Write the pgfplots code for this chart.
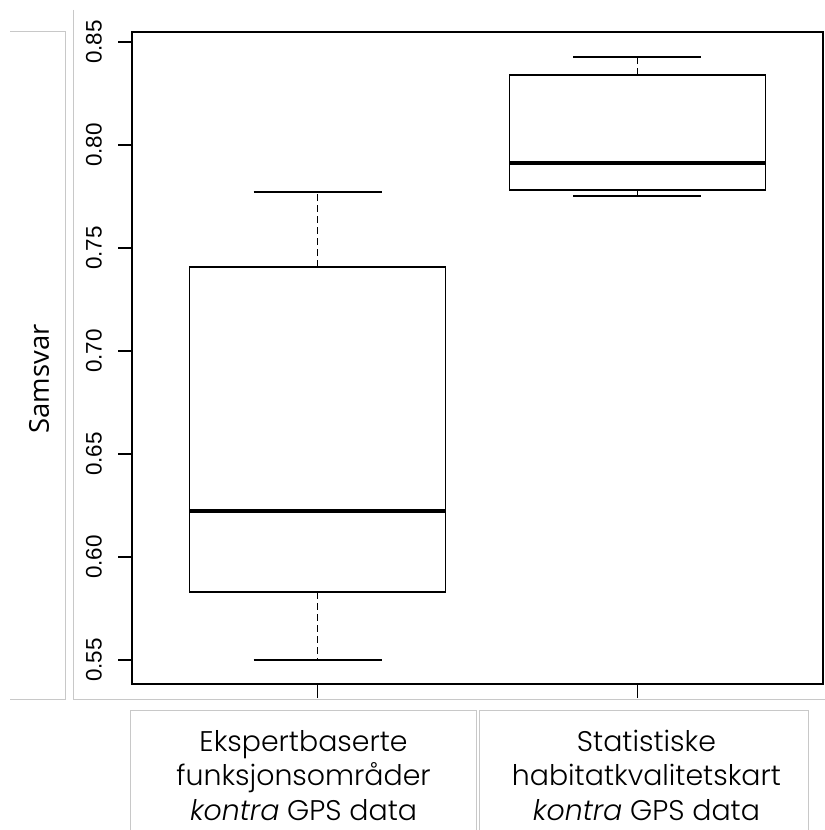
\documentclass[border=0pt]{standalone}
\usepackage{pgfplots}
\pgfplotsset{compat=1.18}
\usepgfplotslibrary{statistics}
\usepackage{fontspec}
\setmainfont{Liberation Sans}
\newfontfamily\labfont{Poppins Light}
\newfontfamily\ylabfont{Open Sans}
\newcommand{\catA}{\hbox{\labfont\fontsize{28.5}{34.5}\selectfont\begin{tabular}{@{}c@{}}Ekspertbaserte\\funksjonsområder\\\textit{kontra} GPS data\end{tabular}\kern28bp}}
\newcommand{\catB}{\hbox{\kern18bp\labfont\fontsize{28.5}{34.5}\selectfont\begin{tabular}{@{}c@{}}Statistiske\\habitatkvalitetskart\\\textit{kontra} GPS data\end{tabular}}}
\begin{document}
\begin{tikzpicture}[x=1bp,y=1bp]
\useasboundingbox (0,0) rectangle (825,830);
% light grey cell borders
\begin{scope}[draw={rgb,255:red,200;green,200;blue,200}, line width=1bp]
\draw (10,798) -- (65,798) -- (65,130) -- (10,130);
\draw (73,820) -- (73,130) -- (825,130);
\draw (130,0) -- (130,119) -- (476,119) -- (476,0);
\draw (479,0) -- (479,119) -- (808,119) -- (808,0);
\end{scope}
\node[rotate=90, font=\ylabfont\fontsize{27.5}{32}\selectfont] at (39,451) {Samsvar};
\begin{axis}[
  at={(132bp,146bp)}, anchor=south west,
  scale only axis, width=691bp, height=652bp,
  xmin=0.42, xmax=2.58, ymin=0.5384, ymax=0.8549,
  axis line style={line width=1.5bp},
  xtick={1,2}, xticklabels={\catA,\catB},
  ytick={0.55,0.60,0.65,0.70,0.75,0.80,0.85},
  tick pos=left, tick align=outside, major tick length=14bp,
  every tick/.style={black, line width=1.5bp},
  xticklabel style={anchor=center, yshift=-81bp},
  yticklabel shift=16bp,
  yticklabel style={rotate=90, anchor=south, inner sep=0pt, font=\fontsize{22.5}{26}\selectfont},
  /pgf/number format/assume math mode=true,
  /pgf/number format/.cd, fixed, fixed zerofill, precision=2, /pgfplots/.cd,
  boxplot/draw direction=y,
  boxplot/every median/.style={line width=4.5bp},
  boxplot/draw/lower whisker/.code={
    \draw[line width=1.8bp, dash pattern=on 7bp off 4bp] (boxplot cs:\pgfplotsboxplotvalue{lower quartile}) -- (boxplot cs:\pgfplotsboxplotvalue{lower whisker});
    \draw (boxplot whisker cs:\pgfplotsboxplotvalue{lower whisker},0) -- (boxplot whisker cs:\pgfplotsboxplotvalue{lower whisker},1);
  },
  boxplot/draw/upper whisker/.code={
    \draw[line width=1.8bp, dash pattern=on 7bp off 4bp] (boxplot cs:\pgfplotsboxplotvalue{upper quartile}) -- (boxplot cs:\pgfplotsboxplotvalue{upper whisker});
    \draw (boxplot whisker cs:\pgfplotsboxplotvalue{upper whisker},0) -- (boxplot whisker cs:\pgfplotsboxplotvalue{upper whisker},1);
  },
]
\addplot[black, line width=1.6bp, boxplot prepared={
  draw position=1, box extend=0.8, whisker extend=0.4,
  lower whisker=0.5500, lower quartile=0.5830, median=0.6223,
  upper quartile=0.7408, upper whisker=0.7772}] coordinates {};
\addplot[black, line width=1.6bp, boxplot prepared={
  draw position=2, box extend=0.8, whisker extend=0.4,
  lower whisker=0.7752, lower quartile=0.7782, median=0.7913,
  upper quartile=0.8340, upper whisker=0.8427}] coordinates {};
\end{axis}
\end{tikzpicture}
\end{document}
